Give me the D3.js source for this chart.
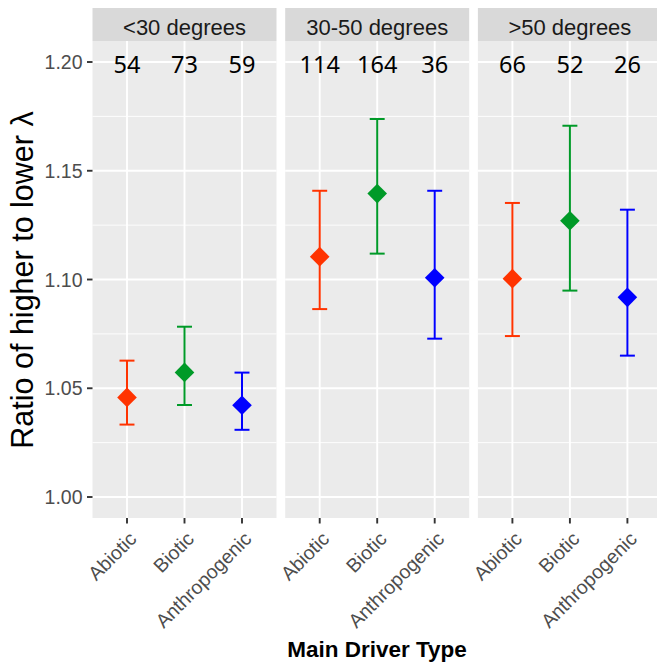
<!DOCTYPE html>
<html>
<head>
<meta charset="utf-8">
<script src="https://cdn.jsdelivr.net/npm/d3@7"></script>
<style>
body { margin: 0; background: #fff; }
svg { display: block; }
</style>
</head>
<body>
<svg id="chart" width="657" height="665"></svg>
<script>
const facets = ["<30 degrees", "30-50 degrees", ">50 degrees"];
const drivers = ["Abiotic", "Biotic", "Anthropogenic"];
const colors = ["#ff3300", "#009a28", "#0000ff"];
// per facet, per driver
const means = [
  [1.0458, 1.0573, 1.0422],
  [1.1105, 1.1395, 1.1008],
  [1.1004, 1.1270, 1.0918]
];
const lowers = [
  [1.0333, 1.0423, 1.0309],
  [1.0864, 1.1119, 1.0728],
  [1.0740, 1.0949, 1.0650]
];
const uppers = [
  [1.0627, 1.0783, 1.0572],
  [1.1408, 1.1738, 1.1408],
  [1.1352, 1.1707, 1.1321]
];
const counts = [
  [54, 73, 59],
  [114, 164, 36],
  [66, 52, 26]
];
const countY = 1.20;
const yTicks = [1.00, 1.05, 1.10, 1.15, 1.20];
const yMinor = [1.025, 1.075, 1.125, 1.175];

const svg = d3.select("#chart");
const panelTop = 41, panelBottom = 518, stripTop = 8;
const panelW = 184, gap = 8.7, left0 = 92.5;
const sans = "Liberation Sans, Arial, sans-serif";

const y = d3.scaleLinear().domain([0.99035, 1.20966]).range([panelBottom, panelTop]);

facets.forEach((f, fi) => {
  const px = left0 + fi * (panelW + gap);
  const xs = d3.scaleLinear().domain([0.4, 3.6]).range([px, px + panelW]);
  const xpos = d => xs(drivers.indexOf(d) + 1);

  const g = svg.append("g");
  g.append("rect").attr("x", px).attr("y", panelTop).attr("width", panelW)
    .attr("height", panelBottom - panelTop).attr("fill", "#ebebeb");
  g.append("rect").attr("x", px).attr("y", stripTop).attr("width", panelW)
    .attr("height", panelTop - stripTop).attr("fill", "#d9d9d9");
  g.append("text").attr("x", px + panelW / 2).attr("y", 35)
    .attr("text-anchor", "middle")
    .attr("font-family", sans).attr("font-size", 22)
    .attr("fill", "#1a1a1a").text(f);

  yMinor.forEach(v => {
    g.append("line").attr("x1", px).attr("x2", px + panelW)
      .attr("y1", y(v)).attr("y2", y(v)).attr("stroke", "#fff").attr("stroke-width", 0.9);
  });
  yTicks.forEach(v => {
    g.append("line").attr("x1", px).attr("x2", px + panelW)
      .attr("y1", y(v)).attr("y2", y(v)).attr("stroke", "#fff").attr("stroke-width", 1.9);
  });
  drivers.forEach(d => {
    g.append("line").attr("x1", xpos(d)).attr("x2", xpos(d))
      .attr("y1", panelTop).attr("y2", panelBottom).attr("stroke", "#fff").attr("stroke-width", 1.9);
    g.append("line").attr("x1", xpos(d)).attr("x2", xpos(d))
      .attr("y1", panelBottom).attr("y2", panelBottom + 5.5).attr("stroke", "#333").attr("stroke-width", 1.9);
    g.append("text")
      .attr("transform", `translate(${xpos(d) + 0.5},${panelBottom + 12}) rotate(-45)`)
      .attr("text-anchor", "end").attr("dominant-baseline", "hanging")
      .attr("font-family", sans).attr("font-size", 19.5)
      .attr("fill", "#4d4d4d").text(d);
  });

  drivers.forEach((d, di) => {
    const cx = xpos(d);
    const c = colors[di];
    const capHalf = xs(1.13) - xs(1);
    g.append("line").attr("x1", cx).attr("x2", cx)
      .attr("y1", y(lowers[fi][di])).attr("y2", y(uppers[fi][di]))
      .attr("stroke", c).attr("stroke-width", 2);
    [lowers[fi][di], uppers[fi][di]].forEach(v => {
      g.append("line").attr("x1", cx - capHalf).attr("x2", cx + capHalf)
        .attr("y1", y(v)).attr("y2", y(v)).attr("stroke", c).attr("stroke-width", 2);
    });
    const cy = y(means[fi][di]);
    const r = 9.8;
    g.append("path")
      .attr("d", `M${cx},${cy - r}L${cx + r},${cy}L${cx},${cy + r}L${cx - r},${cy}Z`)
      .attr("fill", c);
    g.append("text").attr("x", cx).attr("y", y(countY) + 10.5)
      .attr("text-anchor", "middle")
      .attr("font-family", "Noto Sans, Open Sans, sans-serif").attr("font-size", 23.5)
      .attr("fill", "#000").text(counts[fi][di]);
  });
});

yTicks.forEach(v => {
  svg.append("line").attr("x1", left0 - 5.5).attr("x2", left0)
    .attr("y1", y(v)).attr("y2", y(v)).attr("stroke", "#333").attr("stroke-width", 1.9);
  svg.append("text").attr("x", left0 - 10).attr("y", y(v) + 7)
    .attr("text-anchor", "end")
    .attr("font-family", sans).attr("font-size", 19.5)
    .attr("fill", "#4d4d4d").text(d3.format(".2f")(v));
});

svg.append("text")
  .attr("transform", `translate(33,280) rotate(-90)`)
  .attr("text-anchor", "middle")
  .attr("font-family", sans).attr("font-size", 30.5)
  .attr("fill", "#000").text("Ratio of higher to lower  λ");

svg.append("text")
  .attr("x", 377).attr("y", 656.5)
  .attr("text-anchor", "middle")
  .attr("font-family", sans).attr("font-size", 22.5)
  .attr("font-weight", "bold")
  .attr("fill", "#000").text("Main Driver Type");
</script>
</body>
</html>
